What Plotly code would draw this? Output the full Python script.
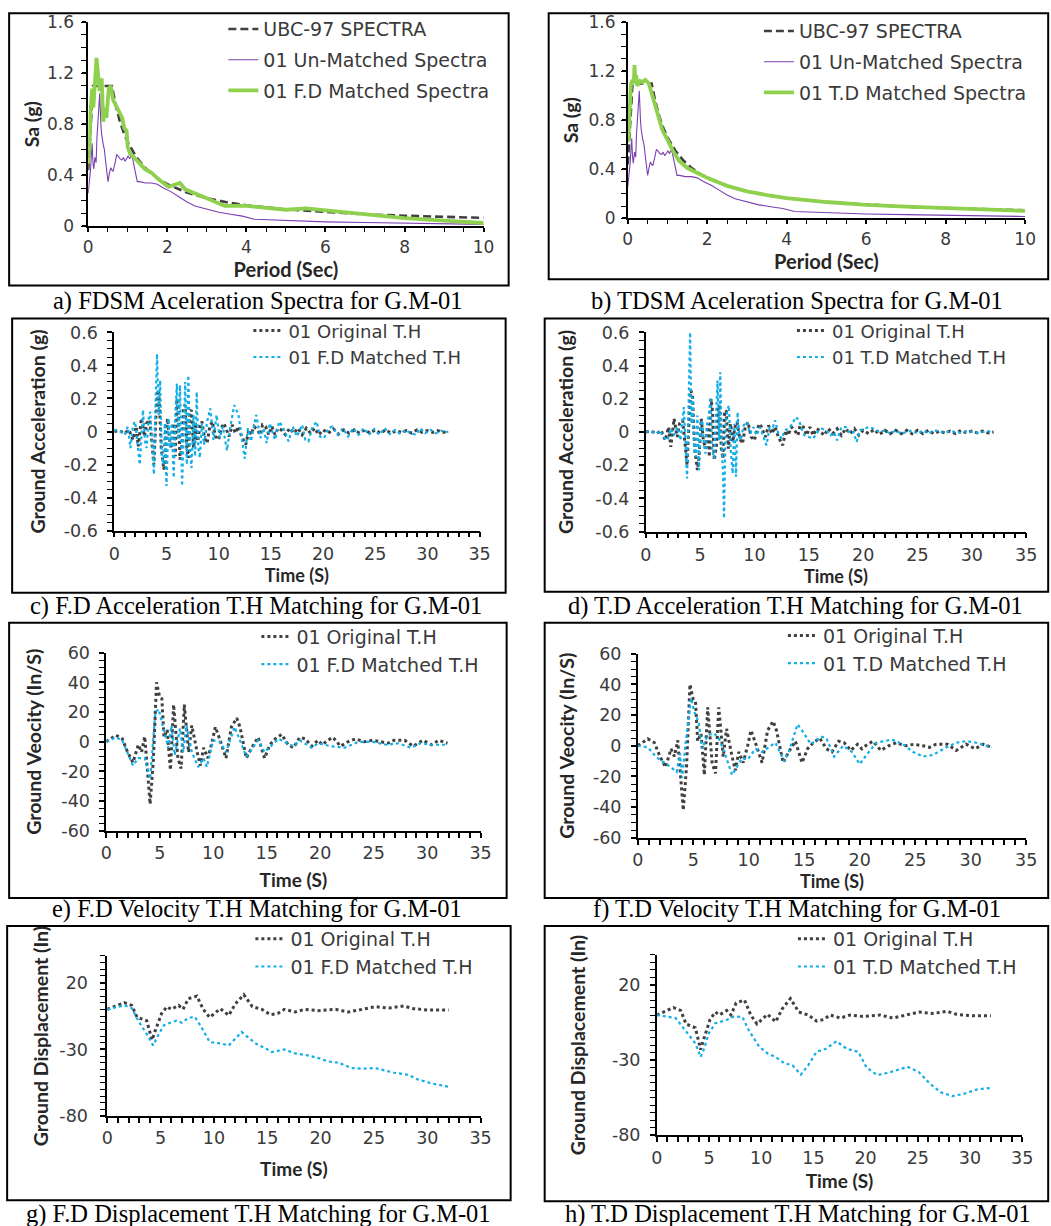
import plotly.graph_objects as go

# The captured picture is the page (with the browser's default 8 px body margin) scaled by ~0.983,
# so page-pixel positions taken from the reference are mapped through that factor.
S, OFF = 0.983, 8
W, H = 1062, 1240

# ------------------------------------------------------------------ data
# Response spectra (period in s, Sa in g)
UBC_T = [0, 0.12, 0.6, 0.7, 0.8, 0.9, 1.0, 1.2, 1.4, 1.6, 1.8, 2.0, 2.5, 3.0, 3.5, 4.0, 5.0, 6.0, 7.0, 8.0, 9.0, 10.0]
UBC_SA = [0.44, 1.1, 1.1, 0.943, 0.825, 0.733, 0.66, 0.55, 0.471, 0.413, 0.367, 0.33, 0.264, 0.22, 0.189, 0.165, 0.132, 0.11, 0.094, 0.083, 0.073, 0.066]

UNMATCHED_T = [0, 0.03, 0.06, 0.08, 0.1, 0.12, 0.14, 0.17, 0.2, 0.22, 0.26, 0.29, 0.32, 0.34, 0.38,
               0.41, 0.44, 0.47, 0.5, 0.54, 0.57, 0.6, 0.63, 0.68, 0.72, 0.76, 0.8, 0.85, 0.89, 0.93,
               0.97, 1.01, 1.05, 1.1, 1.13, 1.18, 1.24, 1.3, 1.45, 1.6, 1.75, 1.9, 2.1, 2.3, 2.5,
               2.7, 2.9, 3.1, 3.3, 3.6, 3.9, 4.2, 4.6, 5.0, 5.5, 6.0, 7.0, 8.0, 9.0, 10.0]
UNMATCHED_SA = [0.26, 0.35, 0.45, 0.56, 0.65, 0.5, 0.45, 0.54, 0.5, 0.69, 0.85, 1.04, 0.8, 0.72, 0.64,
                0.6, 0.51, 0.42, 0.35, 0.42, 0.46, 0.44, 0.43, 0.5, 0.56, 0.55, 0.53, 0.52, 0.54, 0.51,
                0.53, 0.55, 0.53, 0.56, 0.52, 0.45, 0.35, 0.35, 0.34, 0.34, 0.33, 0.3, 0.27, 0.23, 0.19,
                0.16, 0.145, 0.13, 0.11, 0.095, 0.08, 0.055, 0.05, 0.045, 0.04, 0.035, 0.03, 0.025, 0.02, 0.015]

FD_SPECTRA = [(0, 0.49), (0.03, 0.61), (0.06, 0.9), (0.1, 1.08), (0.13, 0.93), (0.17, 1.14), (0.21, 1.32),
              (0.25, 1.19), (0.29, 1.06), (0.34, 1.16), (0.38, 0.82), (0.42, 0.93), (0.46, 0.85), (0.52, 1.08),
              (0.57, 1.1), (0.63, 0.99), (0.72, 0.93), (0.8, 0.88), (0.86, 0.85), (0.91, 0.77), (0.97, 0.75),
              (1.0, 0.62), (1.06, 0.57), (1.13, 0.55), (1.26, 0.51), (1.43, 0.45), (1.6, 0.42), (1.77, 0.37),
              (2.03, 0.31), (2.2, 0.33), (2.32, 0.34), (2.45, 0.29), (2.7, 0.26), (3.0, 0.22), (3.45, 0.16),
              (4.0, 0.16), (4.5, 0.145), (5.0, 0.13), (5.5, 0.14), (6.0, 0.125), (7.0, 0.1), (8.0, 0.065),
              (9.0, 0.045), (10.0, 0.026)]

TD_SPECTRA = [(0, 0.62), (0.02, 0.66), (0.05, 0.9), (0.08, 1.09), (0.12, 1.13), (0.15, 1.1), (0.17, 1.25),
              (0.19, 1.12), (0.21, 1.17), (0.24, 1.08), (0.27, 1.1), (0.31, 1.12), (0.37, 1.11), (0.44, 1.13),
              (0.53, 1.1), (0.61, 1.01), (0.7, 0.9), (0.78, 0.8), (0.87, 0.72), (1.0, 0.64), (1.12, 0.56),
              (1.29, 0.47), (1.5, 0.41), (1.75, 0.37), (2.0, 0.33), (2.5, 0.265), (3.0, 0.22), (3.5, 0.19),
              (4.0, 0.165), (5.0, 0.133), (6.0, 0.11), (7.0, 0.095), (8.0, 0.083), (9.0, 0.073), (10.0, 0.06)]

# Acceleration time histories (time s, acceleration g)
ACC_ORIG = [(0, 0), (0.5, 0.005), (1.0, -0.01), (1.4, 0.01), (1.8, -0.05), (2.1, 0.03), (2.3, -0.09), (2.6, 0.08),
            (2.9, -0.03), (3.1, 0.05), (3.4, 0.07), (3.6, -0.05), (3.8, -0.2), (4.0, 0.1), (4.15, 0.25), (4.3, 0.22),
            (4.5, -0.1), (4.75, -0.23), (4.9, -0.15), (5.1, 0.08), (5.3, -0.05), (5.5, -0.1), (5.7, 0.05),
            (5.85, -0.15), (6.0, 0.2), (6.15, 0.12), (6.3, -0.17), (6.5, -0.08), (6.65, 0.15), (6.8, 0.16),
            (6.95, -0.1), (7.1, -0.16), (7.25, 0.12), (7.4, 0.13), (7.6, -0.1), (7.8, 0.05), (8.0, -0.06),
            (8.2, 0.03), (8.4, 0.06), (8.65, -0.04), (8.9, -0.07), (9.15, 0.03), (9.4, 0.06), (9.7, -0.03),
            (10.0, -0.05), (10.25, 0.02), (10.5, 0.05), (10.75, 0.01), (11.0, -0.03), (11.3, 0.04), (11.6, -0.01),
            (11.9, 0.03), (12.2, -0.03), (12.6, -0.08), (12.9, 0.01), (13.1, -0.02), (13.4, 0.03), (13.7, 0.01),
            (14.0, -0.02), (14.2, 0.04), (14.5, 0.03), (14.8, -0.02), (15.1, 0.03), (15.4, -0.02), (15.7, 0.02),
            (16.0, 0.01), (16.4, -0.02), (16.8, 0.02), (17.2, -0.01), (17.6, 0.02), (18.0, -0.02), (18.4, 0.02),
            (18.8, -0.01), (19.2, 0.02), (19.6, -0.02), (20.0, 0.01), (20.5, -0.01), (21.0, 0.015), (21.5, -0.015),
            (22.0, 0.01), (22.5, -0.01), (23.0, 0.01), (23.5, -0.01), (24.0, 0.01), (24.5, -0.01), (25.0, 0.01),
            (25.5, -0.01), (26.0, 0.01), (26.5, -0.01), (27.0, 0.005), (27.5, -0.005), (28.0, 0.005), (28.5, -0.01),
            (29.0, 0.01), (29.5, -0.005), (30.0, 0.005), (30.5, -0.005), (31.0, 0.005), (31.5, -0.005), (32.0, 0)]

ACC_FD = [(0, 0.01), (0.5, 0.005), (1.0, -0.02), (1.3, 0.03), (1.55, -0.1), (1.8, 0.04), (2.0, 0.06), (2.2, -0.05),
          (2.45, -0.2), (2.75, 0.13), (2.95, -0.06), (3.1, -0.1), (3.3, 0.08), (3.45, 0.12), (3.6, -0.05),
          (3.8, -0.26), (3.95, 0.15), (4.1, 0.47), (4.25, 0.1), (4.4, 0.31), (4.55, -0.15), (4.7, -0.2),
          (4.85, 0.05), (5.0, -0.33), (5.2, 0.08), (5.35, -0.1), (5.5, 0.05), (5.7, -0.28), (5.85, 0.1),
          (6.0, 0.29), (6.15, -0.05), (6.3, 0.28), (6.5, -0.33), (6.65, 0.05), (6.8, 0.3), (6.95, -0.2),
          (7.1, 0.34), (7.25, -0.1), (7.4, -0.22), (7.6, 0.1), (7.75, -0.15), (7.9, 0.24), (8.05, -0.1),
          (8.2, -0.16), (8.4, 0.05), (8.6, -0.08), (8.9, 0.06), (9.2, 0.14), (9.5, -0.05), (9.8, 0.1),
          (10.1, -0.04), (10.4, 0.03), (10.8, -0.115), (11.1, 0.02), (11.5, 0.16), (11.9, 0.1), (12.2, -0.05),
          (12.5, -0.165), (12.8, 0.02), (13.1, -0.06), (13.4, 0.04), (13.6, 0.1), (14.0, -0.04), (14.3, 0.02),
          (14.6, -0.07), (14.9, 0.05), (15.4, -0.05), (15.8, 0.06), (16.2, 0.02), (16.7, -0.06), (17.1, 0.03),
          (17.5, -0.03), (18.0, 0.04), (18.3, -0.05), (18.6, -0.06), (19.0, 0.03), (19.4, 0.06), (19.7, -0.03),
          (20.1, -0.04), (20.5, 0.02), (20.9, 0.03), (21.4, -0.02), (21.9, 0.02), (22.4, -0.03), (22.9, 0.02),
          (23.4, -0.02), (23.9, 0.02), (24.4, -0.02), (24.9, 0.015), (25.4, -0.02), (25.9, 0.02), (26.4, -0.015),
          (26.9, 0.01), (27.4, -0.015), (27.9, 0.01), (28.4, -0.01), (28.9, -0.02), (29.3, 0.02), (29.8, -0.01),
          (30.3, 0.01), (30.8, -0.01), (31.3, 0.005), (31.8, -0.005), (32.0, 0)]

ACC_TD = [(0, 0), (0.5, 0.005), (1.0, -0.01), (1.3, 0.01), (1.6, -0.03), (2.0, -0.05), (2.3, 0.02), (2.6, -0.02),
          (2.9, 0.03), (3.2, -0.05), (3.5, 0.15), (3.65, -0.1), (3.8, -0.28), (3.95, 0.2), (4.08, 0.6), (4.2, 0.05),
          (4.3, 0.21), (4.45, -0.1), (4.6, -0.15), (4.75, 0.1), (4.9, -0.23), (5.05, 0.05), (5.2, 0.07),
          (5.35, -0.08), (5.5, -0.13), (5.65, 0.05), (5.8, 0.1), (5.95, 0.21), (6.1, -0.1), (6.3, -0.16),
          (6.45, 0.1), (6.6, 0.31), (6.75, -0.05), (6.85, 0.36), (7.0, -0.1), (7.1, -0.23), (7.2, -0.52),
          (7.35, 0.05), (7.5, 0.13), (7.65, 0.16), (7.8, -0.1), (8.0, -0.25), (8.15, 0.05), (8.3, -0.27),
          (8.45, 0.12), (8.6, -0.03), (8.75, -0.05), (9.0, 0.04), (9.3, 0.06), (9.6, -0.01), (9.9, 0.03),
          (10.2, -0.02), (10.5, 0.03), (10.8, -0.03), (11.1, -0.08), (11.4, 0.03), (11.7, 0.03), (11.9, 0.07),
          (12.2, -0.01), (12.5, -0.04), (12.8, 0.01), (13.1, 0.02), (13.4, 0.04), (13.8, 0.09), (14.1, 0.07),
          (14.4, 0.01), (14.6, -0.02), (15.0, -0.03), (15.4, -0.04), (15.8, 0.0), (16.2, 0.02), (16.6, 0.01),
          (17.0, -0.02), (17.3, 0.0), (17.6, -0.05), (18.0, 0.03), (18.4, 0.03), (18.8, -0.01), (19.1, 0.0),
          (19.4, -0.06), (19.7, 0.01), (20.1, 0.02), (20.5, 0.03), (21.0, 0.02), (21.5, 0.0), (22.0, 0.01),
          (22.5, -0.01), (23.0, 0.01), (23.5, -0.01), (24.0, 0.0), (24.5, 0.01), (25.0, -0.01), (25.5, 0.01),
          (26.0, -0.01), (26.5, 0.01), (27.0, 0.005), (27.5, -0.005), (28.0, 0.005), (28.5, 0.0), (29.0, -0.005),
          (29.5, 0.005), (30.0, 0.0), (30.5, -0.005), (31.0, 0.0), (31.5, 0.005), (32.0, -0.005)]

# Velocity time histories (time s, velocity in/s)
VEL_ORIG = [(0, 0), (0.9, 4.5), (1.5, 2), (2.0, -7), (2.5, -14), (3.0, -2), (3.3, -7), (3.6, 3.5), (4.1, -42),
            (4.4, -13), (4.7, 40), (5.0, 30), (5.2, 29), (5.4, 3), (5.7, 8), (6.0, -19), (6.3, 25), (6.7, -11),
            (7.0, -18), (7.3, 25), (7.7, -7), (8.0, 11), (8.5, -7), (8.8, -16), (9.1, -4), (9.5, -11), (9.9, 0),
            (10.2, 10), (10.6, 2), (11.2, -11), (11.7, 10), (12.2, 16), (12.5, 10), (13.1, -11), (13.6, -4),
            (14.2, 3), (14.8, -11), (15.3, -2), (15.8, 2), (16.4, 5), (17.0, -2), (17.5, -4), (18.1, 3), (18.6, 2),
            (19.2, -3), (19.8, 1), (20.2, -2), (20.7, 1), (21.2, 3), (21.9, -3), (22.6, 0), (23.3, 2), (24.1, 0),
            (24.9, 1), (25.7, 0), (26.3, -1), (26.9, 1), (27.9, 1), (28.7, -3), (29.6, 1), (30.4, -2), (31.1, 1),
            (31.9, -1)]

VEL_FD = [(0, 0), (0.9, 3), (1.5, 1), (2.0, -8), (2.5, -16), (3.0, -11), (3.6, -11), (4.1, -25), (4.6, 20),
          (4.9, 22), (5.4, 7), (5.8, -4), (6.1, 11), (6.4, -9), (6.9, 9), (7.2, -7), (7.5, 11), (8.0, -7),
          (8.6, -17), (9.1, -11), (9.4, -17), (10.0, 1), (10.6, 0), (11.2, -7), (12.0, 10), (13.1, -10),
          (14.2, 1), (14.8, -7), (16.1, 2), (17.5, -3), (18.1, 1), (19.2, -4), (19.8, -1), (21.0, -3),
          (22.3, -4), (23.6, 0), (24.9, 0), (26.2, -2), (27.3, -1), (28.5, -4), (29.4, -1), (30.4, -2), (31.9, -2)]

VEL_TD = [(0, 0), (0.9, -1), (1.7, -7.6), (2.4, -11), (3.0, -14), (3.5, -17), (3.8, -5), (4.0, -21), (4.3, 1),
          (4.8, 31), (5.1, 22), (5.5, 15), (5.8, -2), (6.3, 7), (6.9, 8), (7.3, 5), (7.8, -4), (8.5, -19),
          (9.4, -8), (9.9, -9), (10.6, -2), (11.2, -4), (12.4, 2), (13.2, -10), (13.6, -4), (14.4, 14),
          (14.8, 10), (15.6, 1), (16.5, 6), (17.0, 5), (17.7, -7), (18.5, 0), (19.3, -4), (20.0, -12),
          (20.6, -6), (21.5, 2), (22.9, 4), (23.9, 1), (24.8, -4), (25.7, -7), (26.6, -6), (27.8, -1),
          (28.7, 2), (29.6, 3), (30.5, 2), (31.9, -1)]

# Displacement time histories (time s, displacement in)
DISP_ORIG = [(0, 0), (1.6, 5), (2.3, 3), (2.8, -6), (3.7, -8.5), (4.2, -23), (4.5, -16), (5.1, -3), (5.6, 2),
             (6.0, 0), (6.7, 3), (7.1, 0), (7.6, 8), (8.4, 10), (9.0, 0), (9.6, -6), (10.6, 0.5), (11.4, -4.5),
             (12.0, 4), (12.8, 11), (13.6, 2), (14.5, 0), (15.3, -4), (16.0, -3), (16.6, 0), (17.6, -2),
             (18.5, 0), (19.8, -1), (21.4, 0), (22.6, -2), (23.9, 0), (25.1, 2), (26.4, 1), (27.8, 2.5),
             (28.7, 0.5), (30.1, -0.5), (32.0, -0.5)]

DISP_FD = [(0, 0), (1.6, 3), (2.3, 1), (2.9, -8.5), (3.7, -18.5), (4.3, -27), (4.8, -19), (5.3, -12),
           (5.9, -10), (6.5, -8.5), (7.0, -10), (7.6, -6.5), (8.2, -5.5), (8.8, -13), (9.6, -24.5), (10.6, -25.5),
           (11.4, -27), (12.0, -22), (12.6, -17), (13.2, -21), (14.0, -26), (14.8, -29), (15.4, -32), (16.6, -30),
           (17.6, -33), (18.8, -34.5), (19.8, -36.5), (20.7, -39), (21.7, -40), (22.9, -44), (23.9, -44.5),
           (25.1, -44), (26.0, -46), (26.9, -47.5), (28.2, -49), (29.1, -52.5), (30.4, -55.5), (32.0, -58)]

DISP_TD = [(0, 0), (1.8, -2), (2.7, -10), (3.7, -19), (4.2, -28), (4.5, -23), (5.0, -12), (5.6, -5.5),
           (6.6, -3.5), (7.4, -1), (8.2, -1.3), (8.8, -10), (9.8, -21), (10.6, -25.5), (11.4, -28), (12.2, -32),
           (13.0, -33.5), (13.8, -39.7), (14.5, -33.5), (15.3, -24.5), (16.2, -22.5), (17.2, -17.5), (18.2, -22.5),
           (19.3, -24.5), (20.1, -35), (21.1, -40), (22.4, -38), (24.0, -34.5), (25.1, -38), (26.2, -46),
           (27.2, -51.5), (28.3, -54), (29.4, -52.5), (30.7, -49.5), (32.1, -48.5)]

# Tick values / labels
SPEC_X_TICKS = [0, 2, 4, 6, 8, 10]
SPEC_Y_TICKS = [0, 0.4, 0.8, 1.2, 1.6]
SPEC_Y_TEXT = ["0", "0.4", "0.8", "1.2", "1.6"]
TIME_X_TICKS = [0, 5, 10, 15, 20, 25, 30, 35]
ACC_Y_TICKS = [-0.6, -0.4, -0.2, 0, 0.2, 0.4, 0.6]
ACC_Y_TEXT = ["-0.6", "-0.4", "-0.2", "0", "0.2", "0.4", "0.6"]
VEL_Y_TICKS = [-60, -40, -20, 0, 20, 40, 60]
VEL_Y_TEXT = ["-60", "-40", "-20", "0", "20", "40", "60"]
DISP_Y_TICKS = [-80, -30, 20]
DISP_Y_TEXT = ["-80", "-30", "20"]

CAPTIONS = ["a) FDSM Aceleration Spectra for G.M-01", "b) TDSM Aceleration Spectra for G.M-01",
            "c) F.D Acceleration T.H Matching for G.M-01", "d) T.D Acceleration T.H Matching for G.M-01",
            "e) F.D Velocity T.H Matching for G.M-01", "f) T.D Velocity T.H Matching for G.M-01",
            "g) F.D Displacement T.H Matching for G.M-01", "h) T.D Displacement T.H Matching for G.M-01"]

# ------------------------------------------------------------------ styles
GREY = "#404040"
BLUE = "#12AEE8"
PURPLE = "#7B3FB0"
GREEN = "#8FD14F"
TXT = "#3a3a3a"
TICK_FONT = "DejaVu Sans"
TITLE_FONT = "Lato"


def px_x(px):
    """picture pixel -> paper x"""
    return (px / S - OFF) / W


def px_y(py):
    """picture pixel -> paper y"""
    return 1 - (py / S - OFF) / H


def unzip(pairs):
    return [p[0] for p in pairs], [p[1] for p in pairs]


fig = go.Figure()


def add(i, x, y, name, color, width, dash, grp):
    fig.add_trace(go.Scatter(
        x=x, y=y, mode="lines", name=name,
        line=dict(color=color, width=width, dash=dash),
        xaxis="x" if i == 1 else f"x{i}", yaxis="y" if i == 1 else f"y{i}",
        legend="legend" if i == 1 else f"legend{i}",
        legendgroup=grp, showlegend=True, hoverinfo="x+y+name"))


# panels 1, 2 : spectra
fdx, fdy = unzip(FD_SPECTRA)
tdx, tdy = unzip(TD_SPECTRA)
for i, (mx, my, mname) in [(1, (fdx, fdy, "01 F.D Matched Spectra")), (2, (tdx, tdy, "01 T.D Matched Spectra"))]:
    add(i, UBC_T, UBC_SA, "UBC-97 SPECTRA", GREY, 2.6, "8px,4px", f"u{i}")
    add(i, UNMATCHED_T, UNMATCHED_SA, "01 Un-Matched Spectra", PURPLE, 1.1, "solid", f"p{i}")
    add(i, mx, my, mname, GREEN, 3.8, "solid", f"g{i}")

# time histories
th = [
    (3, ACC_ORIG, ACC_FD, "01 F.D Matched T.H"),
    (4, ACC_ORIG, ACC_TD, "01 T.D Matched T.H"),
    (5, VEL_ORIG, VEL_FD, "01 F.D Matched T.H"),
    (6, VEL_ORIG, VEL_TD, "01 T.D Matched T.H"),
    (7, DISP_ORIG, DISP_FD, "01 F.D Matched T.H"),
    (8, DISP_ORIG, DISP_TD, "01 T.D Matched T.H"),
]
for i, orig, match, mname in th:
    ox, oy = unzip(orig)
    mx, my = unzip(match)
    add(i, ox, oy, "01 Original T.H", GREY, 3, "dot", f"o{i}")
    add(i, mx, my, mname, BLUE, 2.2, "dot", f"m{i}")

# ------------------------------------------------------------------ layout per panel (picture pixels)
panels = {
    1: dict(box=(11, 11, 510, 283), plot=(90, 485, 20, 224), cap=(260, 299), leg=(225, 8, 3, 19), ytitle="Sa (g)",
            xtitle="Period (Sec)", tick=17, xtf=20, ystand=2, xstand=0, xls=0, yls=5, tlen=4, kind="spec"),
    2: dict(box=(550, 11, 1049, 277), plot=(629, 1026, 20, 216), cap=(798, 299), leg=(760, 10, 3, 19), ytitle="Sa (g)",
            xtitle="Period (Sec)", tick=17, xtf=20, ystand=5, xstand=4, xls=0, yls=3, tlen=4, kind="spec"),
    3: dict(box=(14, 316, 507, 590), plot=(116, 481, 330, 528), cap=(258, 603), leg=(250, 310, 0, 18),
            ytitle="Ground Acceleration (g)", xtitle="Time (S)", tick=17.5, xtf=18, ystand=13, xstand=0,
            xls=2, yls=6, tlen=5, kind="acc"),
    4: dict(box=(546, 316, 1049, 589), plot=(647, 1027, 330, 529), cap=(797, 603), leg=(793, 310, 0, 18),
            ytitle="Ground Acceleration (g)", xtitle="Time (S)", tick=17.5, xtf=18, ystand=16, xstand=0,
            xls=2, yls=6, tlen=5, kind="acc"),
    5: dict(box=(11, 620, 508, 895), plot=(108, 482, 650, 828), cap=(259, 906), leg=(258, 615, 0, 19),
            ytitle="Ground Veocity (In/S)", xtitle="Time (S)", tick=17.5, xtf=19, ystand=15, xstand=12,
            xls=0, yls=6, tlen=5, kind="vel"),
    6: dict(box=(546, 620, 1049, 895), plot=(639, 1027, 651, 835), cap=(798, 906), leg=(784, 614, 0, 19),
            ytitle="Ground Veocity (In/S)", xtitle="Time (S)", tick=17.5, xtf=18, ystand=13, xstand=0,
            xls=0, yls=6, tlen=5, kind="vel"),
    7: dict(box=(9, 923, 512, 1197), plot=(109, 482, 953, 1113), cap=(260, 1211), leg=(252, 917, 0, 19),
            ytitle="Ground Displacement (In)", xtitle="Time (S)", tick=17.5, xtf=19, ystand=6, xstand=16,
            xls=0, yls=9, tlen=5, kind="disp"),
    8: dict(box=(546, 923, 1049, 1198), plot=(658, 1023, 952, 1132), cap=(799, 1211), leg=(794, 917, 0, 19),
            ytitle="Ground Displacement (In)", xtitle="Time (S)", tick=17.5, xtf=19, ystand=21, xstand=8,
            xls=1, yls=6, tlen=5, kind="disp"),
}

shapes, annotations = [], []
layout = dict(width=W, height=H, margin=dict(l=0, r=0, t=0, b=0), paper_bgcolor="white",
              plot_bgcolor="rgba(0,0,0,0)", showlegend=True, font=dict(family=TICK_FONT, color=TXT))


def minor(t0, dt, w=1.4, ln=5):
    return dict(tickmode="linear", tick0=t0, dtick=dt, ticks="outside", ticklen=ln, tickwidth=w,
                tickcolor="black")


for i, p in panels.items():
    x0, x1, yt, yb = p["plot"]
    k = p["kind"]
    xs = "" if i == 1 else str(i)
    tickfont = dict(family=TICK_FONT, size=p["tick"], color=TXT)
    xtitlefont = dict(family=TITLE_FONT, size=p["xtf"], color="#262626", weight="bold")
    ytitlefont = dict(family=TITLE_FONT, size=19.5, color="#262626", weight="bold")
    common = dict(showline=True, linecolor="black", linewidth=1.6, ticks="outside", ticklen=p["tlen"],
                  tickwidth=1.6, tickcolor="black", showgrid=False, zeroline=False, tickfont=tickfont,
                  tickmode="array", fixedrange=True)
    if k == "spec":
        xa = dict(range=[0, 10], tickvals=SPEC_X_TICKS, ticktext=[str(v) for v in SPEC_X_TICKS],
                  minor=minor(0, 0.5, ln=p["tlen"]))
        ya = dict(range=[0, 1.6], tickvals=SPEC_Y_TICKS, ticktext=SPEC_Y_TEXT, minor=minor(0, 0.1))
    else:
        xa = dict(range=[0, 35], tickvals=TIME_X_TICKS, ticktext=[str(v) for v in TIME_X_TICKS],
                  minor=minor(0, 1, w=1.6))
        if k == "acc":
            ya = dict(range=[-0.6, 0.6], tickvals=ACC_Y_TICKS, ticktext=ACC_Y_TEXT, minor=minor(-0.6, 0.05))
        elif k == "vel":
            ya = dict(range=[-60, 60], tickvals=VEL_Y_TICKS, ticktext=VEL_Y_TEXT, minor=minor(-60, 5))
        else:
            ya = dict(range=[-80, 40], tickvals=DISP_Y_TICKS, ticktext=DISP_Y_TEXT, minor=minor(-80, 5))
    xa.update(common)
    ya.update(common)
    xa.update(domain=[px_x(x0), px_x(x1)], anchor="y" + xs, ticklabelstandoff=p["xls"],
              title=dict(text=p["xtitle"], font=xtitlefont, standoff=p["xstand"]))
    ya.update(domain=[px_y(yb), px_y(yt)], anchor="x" + xs, ticklabelstandoff=p["yls"],
              title=dict(text=p["ytitle"], font=ytitlefont, standoff=p["ystand"]))
    layout["xaxis" + xs] = xa
    layout["yaxis" + xs] = ya

    lx, ly, gap, lfs = p["leg"]
    layout["legend" + xs] = dict(x=px_x(lx), y=px_y(ly), xanchor="left", yanchor="top", xref="paper",
                                 yref="paper", bgcolor="rgba(0,0,0,0)", borderwidth=0, tracegroupgap=gap,
                                 itemwidth=30, traceorder="grouped",
                                 font=dict(family=TICK_FONT, size=lfs, color=TXT))

    bx0, by0, bx1, by1 = p["box"]
    shapes.append(dict(type="rect", xref="paper", yref="paper", x0=px_x(bx0), x1=px_x(bx1),
                       y0=px_y(by1), y1=px_y(by0), line=dict(color="black", width=2),
                       fillcolor="rgba(0,0,0,0)", layer="below"))
    cx, cy = p["cap"]
    annotations.append(dict(text=CAPTIONS[i - 1], xref="paper", yref="paper", x=px_x(cx), y=px_y(cy),
                            xanchor="center", yanchor="middle", showarrow=False,
                            font=dict(family="Liberation Serif", size=24.5, color="black")))

layout["shapes"] = shapes
layout["annotations"] = annotations
fig.update_layout(**layout)

fig.write_html("out.html")
